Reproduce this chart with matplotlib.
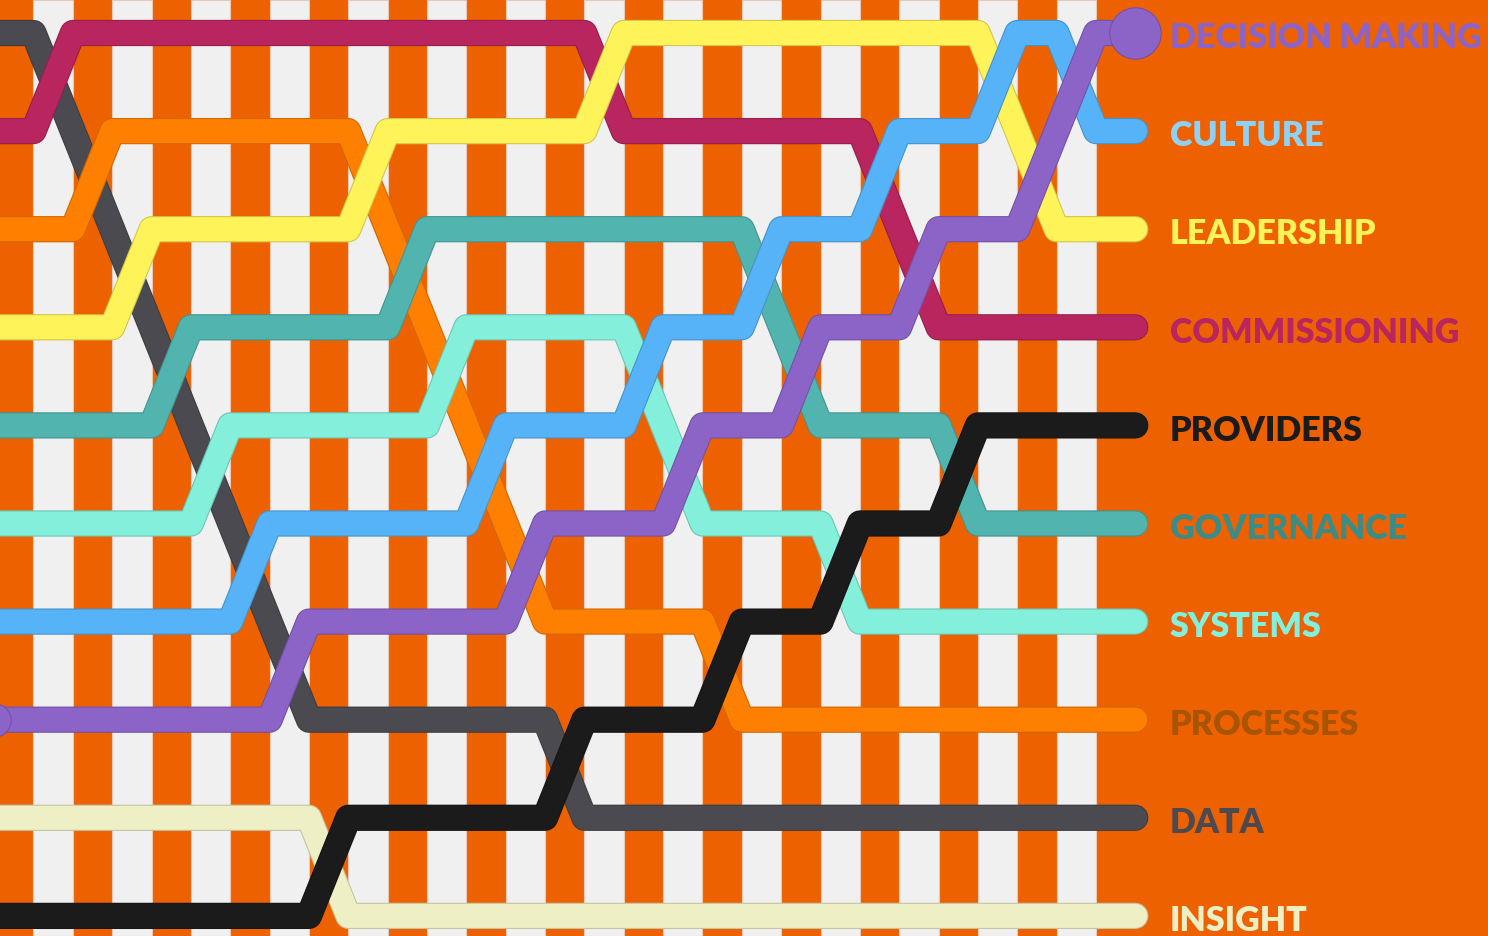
import matplotlib

matplotlib.use("Agg")

import matplotlib.pyplot as plt
import matplotlib.patheffects as pe
import numpy as np
from matplotlib.colors import to_rgb


# ranking of each theme over 30 periods (1 = top)
periods = np.arange(30)

data_rank = [1, 1, 2, 3, 4, 5, 6, 7, 8, 8, 8, 8, 8, 8, 8,
             9, 9, 9, 9, 9, 9, 9, 9, 9, 9, 9, 9, 9, 9, 9]
processes_rank = [3, 3, 3, 2, 2, 2, 2, 2, 2, 2, 3, 4, 5, 6, 7,
                  7, 7, 7, 7, 8, 8, 8, 8, 8, 8, 8, 8, 8, 8, 8]
commissioning_rank = [2, 2, 1, 1, 1, 1, 1, 1, 1, 1, 1, 1, 1, 1, 1,
                      1, 2, 2, 2, 2, 2, 2, 2, 3, 4, 4, 4, 4, 4, 4]
governance_rank = [5, 5, 5, 5, 5, 4, 4, 4, 4, 4, 4, 3, 3, 3, 3,
                   3, 3, 3, 3, 3, 4, 5, 5, 5, 5, 6, 6, 6, 6, 6]
systems_rank = [6, 6, 6, 6, 6, 6, 5, 5, 5, 5, 5, 5, 4, 4, 4,
                4, 4, 5, 6, 6, 6, 6, 7, 7, 7, 7, 7, 7, 7, 7]
insight_rank = [9, 9, 9, 9, 9, 9, 9, 9, 9, 10, 10, 10, 10, 10, 10,
                10, 10, 10, 10, 10, 10, 10, 10, 10, 10, 10, 10, 10, 10, 10]
leadership_rank = [4, 4, 4, 4, 3, 3, 3, 3, 3, 3, 2, 2, 2, 2, 2,
                   2, 1, 1, 1, 1, 1, 1, 1, 1, 1, 1, 2, 3, 3, 3]
providers_rank = [10, 10, 10, 10, 10, 10, 10, 10, 10, 9, 9, 9, 9, 9, 9,
                  8, 8, 8, 8, 7, 7, 7, 6, 6, 6, 5, 5, 5, 5, 5]
culture_rank = [7, 7, 7, 7, 7, 7, 7, 6, 6, 6, 6, 6, 6, 5, 5,
                5, 5, 4, 4, 4, 3, 3, 3, 2, 2, 2, 1, 1, 2, 2]
decision_rank = [8, 8, 8, 8, 8, 8, 8, 8, 7, 7, 7, 7, 7, 7, 6,
                 6, 6, 6, 5, 5, 5, 4, 4, 4, 3, 3, 3, 2, 1, 1]

# drawing order: later series sit on top
series_names = ["DATA", "PROCESSES", "COMMISSIONING", "GOVERNANCE", "SYSTEMS",
                "INSIGHT", "LEADERSHIP", "PROVIDERS", "CULTURE", "DECISION MAKING"]
series_ranks = [data_rank, processes_rank, commissioning_rank, governance_rank, systems_rank,
                insight_rank, leadership_rank, providers_rank, culture_rank, decision_rank]
line_colors = ["#4b4a50", "#ff7f00", "#b8255f", "#52b4ae", "#84f0dc",
               "#efefc6", "#fff35a", "#1b1b1b", "#56b3f8", "#8c64c8"]
label_colors = ["#4b4a50", "#a85400", "#b8255f", "#3b8c87", "#84f0dc",
                "#efefc6", "#fff35a", "#1b1b1b", "#8fd0f5", "#8c64c8"]

BACKGROUND = "#ee6100"
STRIPE = "#f0f0f0"


def darker(color, factor=0.82):
    return tuple(c * factor for c in to_rgb(color))


fig = plt.figure(figsize=(14.88, 9.36), dpi=100)
fig.patch.set_facecolor(BACKGROUND)
ax = fig.add_axes([0, 0, 1, 1])
ax.set_facecolor(BACKGROUND)

# light column between every other pair of periods
for start in periods[1:-2:2]:
    ax.axvspan(start, start + 1, facecolor=STRIPE, edgecolor="#e9c9b5", linewidth=0.8, zorder=0)

line_width = 17.3
for order, (name, ranks, color) in enumerate(zip(series_names, series_ranks, line_colors)):
    line, = ax.plot(periods, ranks, color=color, linewidth=line_width,
                    solid_joinstyle="round", solid_capstyle="round", zorder=2 + order)
    line.set_path_effects([
        pe.Stroke(linewidth=line_width + 1.6, foreground=darker(color)),
        pe.Normal(),
    ])

# end markers on the top-ranked theme
ax.plot(periods[-1], decision_rank[-1], "o", markersize=37, color="#8c64c8",
        markeredgecolor=darker("#8c64c8"), markeredgewidth=0.8, zorder=20)
ax.plot(periods[0], decision_rank[0], "o", markersize=24, color="#8c64c8",
        markeredgecolor=darker("#8c64c8"), markeredgewidth=0.8, zorder=20)

# theme names beside the last period
for name, ranks, color in zip(series_names, series_ranks, label_colors):
    ax.annotate(name, xy=(periods[-1], ranks[-1]), xytext=(25, -11), textcoords="offset points",
                ha="left", va="baseline", fontsize=24.5, fontweight="heavy", family="Lato",
                color=color, zorder=25, annotation_clip=False)

ax.set_xlim(0.1487, 37.963)
ax.set_ylim(10.205, 0.6636)
ax.axis("off")

fig.savefig("out.png", dpi=100, facecolor=BACKGROUND)
plt.close(fig)
